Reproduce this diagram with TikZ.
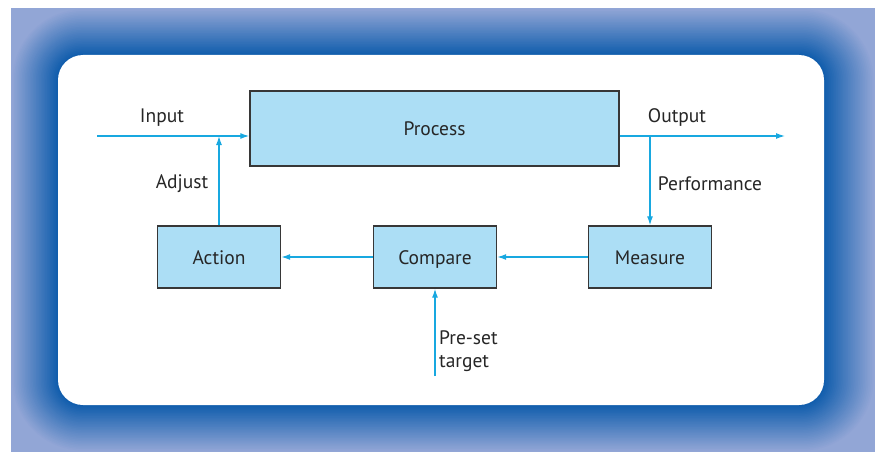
\documentclass[tikz,border=0pt]{standalone}
\usepackage{fontspec}
\setmainfont{PT Sans}
\usetikzlibrary{positioning, arrows.meta, calc}

\definecolor{frameout}{RGB}{146,166,214}
\definecolor{framein}{RGB}{14,92,172}
\definecolor{boxfill}{RGB}{172,222,245}
\definecolor{boxline}{RGB}{55,55,55}
\definecolor{flow}{RGB}{24,168,224}

\begin{document}
\begin{tikzpicture}[
    x=1pt, y=-1pt,
    every node/.style={font=\fontsize{19.5}{23}\selectfont, text=black!85},
    stage/.style={draw=boxline, line width=1.4pt, fill=boxfill, minimum width=123pt, minimum height=62pt, inner sep=0pt, text height=14pt, text depth=0pt},
    flowline/.style={draw=flow, line width=1.3pt},
    >={Latex[length=9pt,width=6pt]}
]
\useasboundingbox (0,0) rectangle (875,452);

% Shaded frame round the panel
\fill[frameout] (11,8) rectangle (875,452);
\foreach \i in {1,...,30} {
    \pgfmathsetmacro{\t}{\i/30}
    \pgfmathsetmacro{\p}{100*\t}
    \pgfmathsetmacro{\r}{25+47*(1-\t)}
    \fill[framein!\p!frameout, rounded corners=\r pt]
        ($(11,8)+(47*\t,47*\t)$) rectangle ($(875,452)+(-51*\t,-47*\t)$);
}
\fill[white, rounded corners=25pt] (58,55) rectangle (824,405);

% Blocks
\node[stage, minimum width=369pt, minimum height=75pt] (process) at (434.5,128.5) {Process};
\node[stage] (compare) at (435,257) {Compare};
\node[stage] (action) at (219,257) {Action};
\node[stage] (measure) at (650,257) {Measure};

% Free ends
\coordinate (input) at (97,136);
\coordinate (output) at (785,136);
\coordinate (target) at (435,376);

% Connectors
\draw[flowline, ->] (input) -- (input -| process.west);
\draw[flowline, ->] (action.north) -- (action.north |- input);
\draw[flowline, ->] (process.east |- output) -- (output);
\draw[flowline, ->] (measure.north |- output) -- (measure.north);
\draw[flowline, ->] (measure.west) -- (compare.east);
\draw[flowline, ->] (compare.west) -- (action.east);
\draw[flowline, ->] (target) -- (compare.south);

% Labels
\node (inputlbl) at (162,118) {Input};
\node (outputlbl) at (677,118) {Output};
\node (adjustlbl) at (182,184) {Adjust};
\node (perflbl) at (710,184) {Performance};
\node[anchor=west, align=left, inner sep=2pt] (targetlbl) at (437,351) {Pre-set\\target};

\end{tikzpicture}
\end{document}
